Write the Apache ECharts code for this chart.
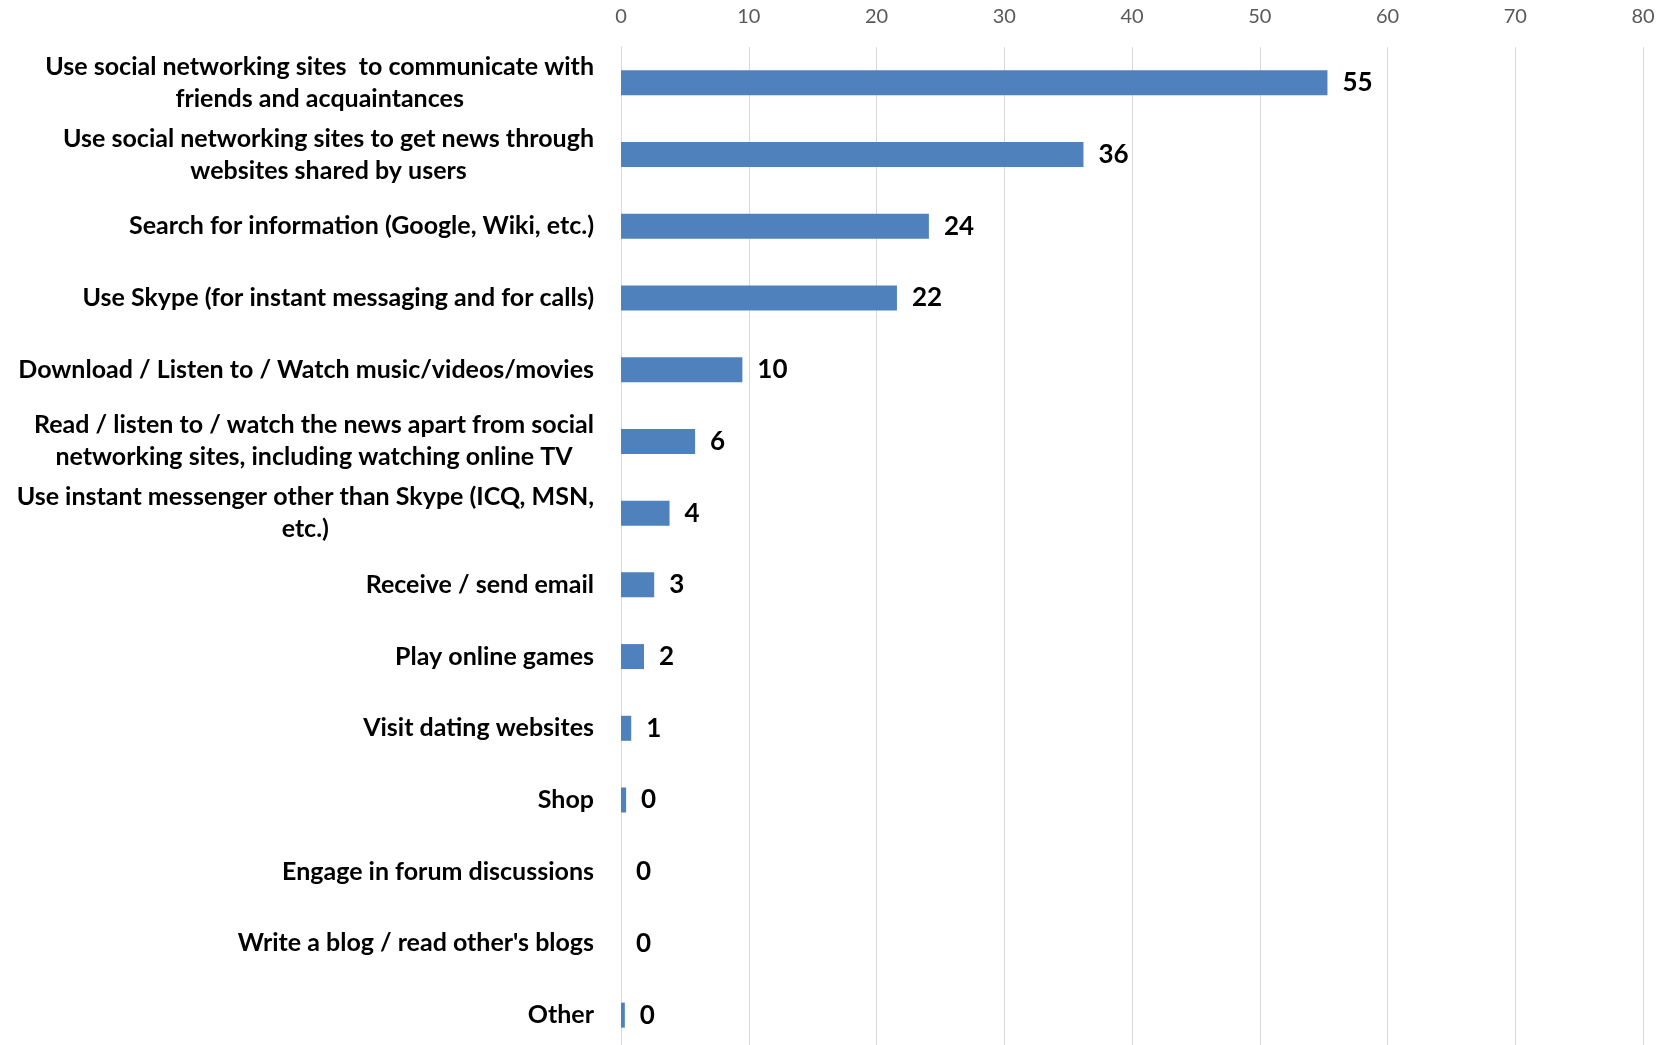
<!DOCTYPE html>
<html>
<head>
<meta charset="utf-8">
<script src="https://cdn.jsdelivr.net/npm/echarts@6/dist/echarts.min.js"></script>
<style>
html,body{margin:0;padding:0;background:#fff;}
#chart{width:1673px;height:1045px;}
</style>
</head>
<body>
<div id="chart"></div>
<script>
const categories = [
  "Use social networking sites  to communicate with\nfriends and acquaintances",
  "Use social networking sites to get news through\nwebsites shared by users",
  "Search for information (Google, Wiki, etc.)",
  "Use Skype (for instant messaging and for calls)",
  "Download / Listen to / Watch music/videos/movies",
  "Read / listen to / watch the news apart from social\nnetworking sites, including watching online TV",
  "Use instant messenger other than Skype (ICQ, MSN,\netc.)",
  "Receive / send email",
  "Play online games",
  "Visit dating websites",
  "Shop",
  "Engage in forum discussions",
  "Write a blog / read other's blogs",
  "Other"
];
const values = [55.3, 36.2, 24.1, 21.6, 9.5, 5.8, 3.8, 2.6, 1.8, 0.8, 0.4, 0, 0, 0.3];
const tickMin = 0, tickMax = 80, tickStep = 10;

const chart = echarts.init(document.getElementById('chart'));
chart.setOption({
  animation: false,
  backgroundColor: '#ffffff',
  grid: { left: 621, right: 30, top: 47, height: 1004, containLabel: false, outerBoundsMode: 'none' },
  xAxis: {
    type: 'value', position: 'top', min: tickMin, max: tickMax, interval: tickStep,
    axisLine: { show: false }, axisTick: { show: false },
    splitLine: { show: true, lineStyle: { color: '#D9D9D9', width: 1 } },
    axisLabel: { color: '#595959', fontFamily: 'Lato', fontSize: 20, margin: 20 }
  },
  yAxis: {
    type: 'category', data: categories, inverse: true,
    axisLine: { show: true, lineStyle: { color: '#D9D9D9' } },
    axisTick: { show: false },
    axisLabel: {
      margin: 27, align: 'right', color: '#000', fontFamily: 'Lato', fontWeight: 'bold', fontSize: 25,
      lineHeight: 32,
      formatter: function (v) { return v.split('\n').map(s => '{c|' + s + '}').join('\n'); },
      rich: { c: { align: 'center', fontFamily: 'Lato', fontWeight: 'bold', fontSize: 25, lineHeight: 32, color: '#000' } }
    }
  },
  series: [{
    type: 'bar', data: values, barWidth: 25,
    itemStyle: { color: '#4F81BD', borderWidth: 0 },
    label: {
      show: true, position: 'right', distance: 15, color: '#000', fontFamily: 'Lato', fontWeight: 'bold', fontSize: 26,
      formatter: p => String(Math.round(p.value))
    }
  }]
});
</script>
</body>
</html>
